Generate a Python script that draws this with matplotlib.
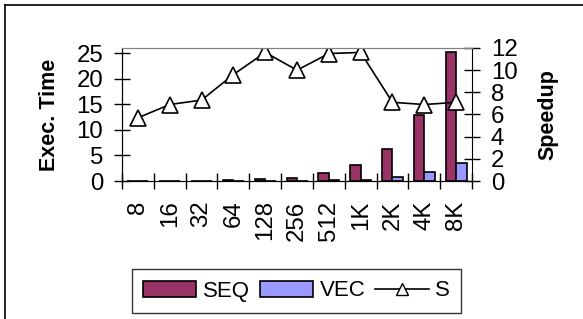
import matplotlib.pyplot as plt
from matplotlib.patches import Patch
from matplotlib.lines import Line2D
import numpy as np

plt.rcParams['font.family'] = ['Liberation Sans', 'DejaVu Sans']

# datos
sizes = ['8', '16', '32', '64', '128', '256', '512', '1K', '2K', '4K', '8K']
seq = [0.05, 0.05, 0.05, 0.25, 0.3, 0.65, 1.5, 3.1, 6.2, 12.9, 25.3]
vec = [0.0, 0.0, 0.0, 0.02, 0.03, 0.05, 0.1, 0.25, 0.7, 1.8, 3.45]
speedup = [5.7, 6.9, 7.3, 9.6, 11.6, 10.0, 11.5, 11.6, 7.1, 6.9, 7.1]

W, H = 583, 319
fig = plt.figure(figsize=(W / 100, H / 100), dpi=100)
ax1 = fig.add_axes([122 / W, 1 - 181 / H, 350 / W, 133 / H])
ax2 = ax1.twinx()

x = np.arange(len(sizes))
w = 0.33
ax1.bar(x - w / 2, seq, w, color='#993366', edgecolor='black', linewidth=1.2, zorder=2)
ax1.bar(x + w / 2, vec, w, color='#9999ff', edgecolor='black', linewidth=1.2, zorder=2)
ax2.plot(x, speedup, color='black', lw=1.2, marker='^', ms=11,
         markerfacecolor='white', markeredgecolor='black', mew=1.2)

ax1.set_xlim(-0.5, len(sizes) - 0.5)
ax1.set_ylim(0, 26)
ax1.set_yticks([0, 5, 10, 15, 20, 25])
ax2.set_ylim(0, 12)
ax2.set_yticks([0, 2, 4, 6, 8, 10, 12])

fs = 17.3
ax1.set_xticks(x)
ax1.set_xticklabels(sizes, rotation=90, fontsize=fs)
ax1.set_xticks(np.arange(len(sizes) + 1) - 0.5, minor=True)
ax1.tick_params(axis='x', which='major', length=0, pad=14)
ax1.tick_params(axis='x', which='minor', direction='inout', length=11, width=1)
ax1.tick_params(axis='y', direction='inout', length=11, width=1, pad=8, labelsize=fs)
ax2.tick_params(axis='y', direction='inout', length=11, width=1, pad=8, labelsize=fs)

for ax in (ax1, ax2):
    ax.spines['top'].set_color('#808080')
    ax.spines['left'].set_color('black')
    ax.spines['bottom'].set_color('black')
ax1.spines['right'].set_visible(False)

ax1.set_ylabel('Exec. Time', fontsize=15.5, fontweight='bold', labelpad=12)
ax2.set_ylabel('Speedup', fontsize=15.5, fontweight='bold', labelpad=14)

handles = [Patch(facecolor='#993366', edgecolor='black', linewidth=1.2),
           Patch(facecolor='#9999ff', edgecolor='black', linewidth=1.2),
           Line2D([], [], color='black', lw=1.2, marker='^', ms=9,
                  markerfacecolor='white', markeredgecolor='black')]
leg = fig.legend(handles, ['SEQ', 'VEC', 'S'], loc='center', ncol=3,
                 bbox_to_anchor=(296.5 / W, 1 - 291 / H), fontsize=16,
                 frameon=True, fancybox=False, edgecolor='black',
                 handlelength=2.4, handletextpad=0.3, columnspacing=0.45,
                 borderpad=0.5)
leg.get_frame().set_linewidth(1)

# marco exterior
fig.add_artist(Line2D([5 / W, 1], [1 - 5 / H, 1 - 5 / H], color='black', lw=1.2))
fig.add_artist(Line2D([5 / W, 5 / W], [0, 1 - 5 / H], color='black', lw=1.2))

fig.savefig('out.png', dpi=100)
